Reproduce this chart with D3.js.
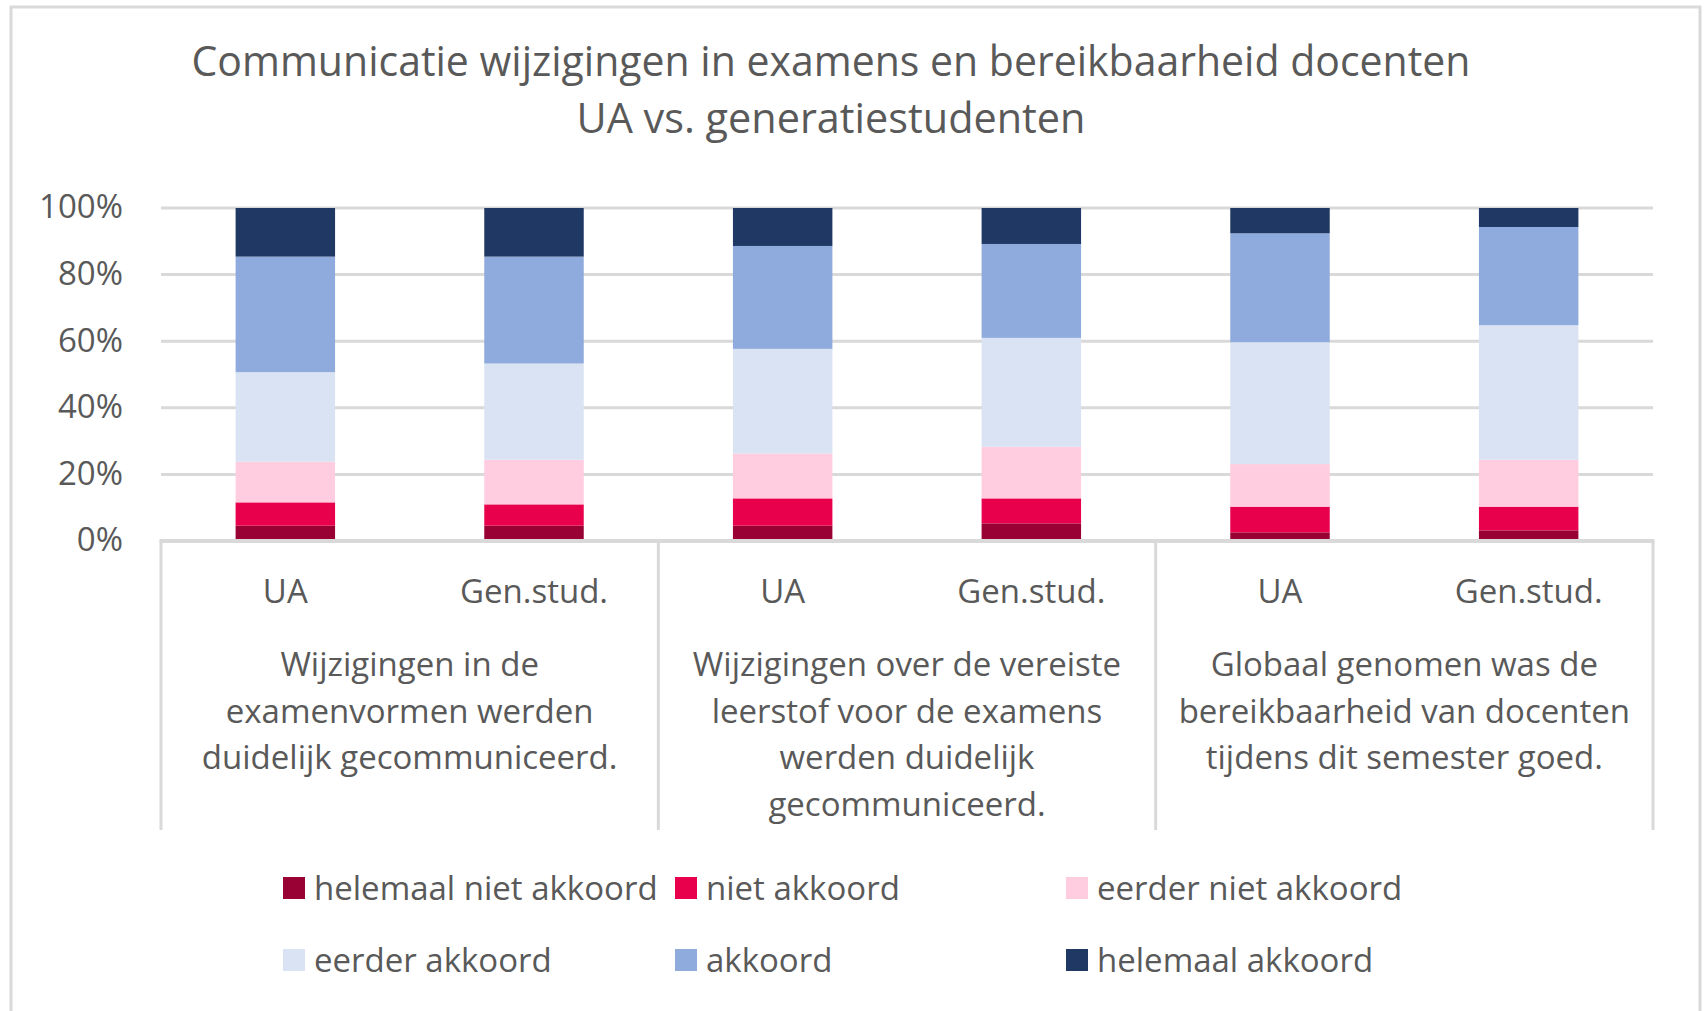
<!DOCTYPE html>
<html>
<head>
<meta charset="utf-8">
<script src="https://cdn.jsdelivr.net/npm/d3@7"></script>
<style>
  body { margin: 0; background: #fff; }
  text { font-family: "Open Sans", "Noto Sans", sans-serif; fill: #595959; }
</style>
</head>
<body>
<div id="chart"></div>
<script>
const w = 1705,
      h = 1011;

// data
const titleLines = ["Communicatie wijzigingen in examens en bereikbaarheid docenten", "UA vs. generatiestudenten"];
const groups = [
    ["Wijzigingen in de", "examenvormen werden", "duidelijk gecommuniceerd."],
    ["Wijzigingen over de vereiste", "leerstof voor de examens", "werden duidelijk", "gecommuniceerd."],
    ["Globaal genomen was de", "bereikbaarheid van docenten", "tijdens dit semester goed."]
];
const subCats = ["UA", "Gen.stud."];
const seriesNames = ["helemaal niet akkoord", "niet akkoord", "eerder niet akkoord", "eerder akkoord", "akkoord", "helemaal akkoord"];
const seriesColors = ["#990033", "#e8004c", "#ffcce0", "#dae3f3", "#8faadc", "#203864"];

// one value per bar: UA, Gen, UA, Gen, UA, Gen (percent)
const helemaalNiet = [4.6, 4.6, 4.6, 5.3, 2.6, 3.2];
const niet         = [7.0, 6.4, 8.2, 7.5, 7.7, 7.1];
const eerderNiet   = [12.2, 13.4, 13.5, 15.5, 12.8, 14.1];
const eerder       = [26.9, 28.9, 31.4, 32.7, 36.6, 40.4];
const akkoord      = [34.7, 32.1, 30.9, 28.2, 32.7, 29.5];
const helemaal     = [14.6, 14.6, 11.4, 10.8, 7.6, 5.7];
const yTicks = [0, 20, 40, 60, 80, 100];

const seriesValues = [helemaalNiet, niet, eerderNiet, eerder, akkoord, helemaal];

const plot = {left: 161, right: 1653, top: 208, bottom: 541};
const grey = "#d9d9d9";

const svg = d3.select("#chart")
    .append("svg")
    .attr("width", w)
    .attr("height", h)
    .style("display", "block");

svg.append("rect")
    .attr("x", 11).attr("y", 7)
    .attr("width", 1689).attr("height", 1040)
    .attr("fill", "#fff")
    .attr("stroke", grey)
    .attr("stroke-width", 3);

// title
svg.selectAll(".title")
    .data(titleLines)
    .enter()
    .append("text")
    .attr("class", "title")
    .attr("x", 831)
    .attr("y", (d, i) => 76 + i * 57)
    .attr("text-anchor", "middle")
    .attr("textLength", (d, i) => i == 0 ? 1279 : 509)
    .attr("lengthAdjust", "spacingAndGlyphs")
    .style("font-size", "42px")
    .text(d => d);

// table of bars
let bars = [];
groups.forEach((g, gi) => {
    subCats.forEach((s, si) => {
        let row = {key: gi + "-" + si, sub: s, group: gi};
        seriesNames.forEach((n, k) => row[n] = seriesValues[k][gi * 2 + si]);
        bars.push(row);
    });
});

const x = d3.scaleBand()
    .domain(bars.map(d => d.key))
    .range([plot.left, plot.right])
    .paddingInner(0.6)
    .paddingOuter(0.3);

const y = d3.scaleLinear()
    .domain([0, 100])
    .range([plot.bottom, plot.top]);

// gridlines
svg.append("g")
    .selectAll("line")
    .data(yTicks)
    .enter()
    .append("line")
    .attr("x1", plot.left)
    .attr("x2", plot.right)
    .attr("y1", d => y(d))
    .attr("y2", d => y(d))
    .attr("stroke", grey)
    .attr("stroke-width", 3);

let yAxis = d3.axisLeft(y)
    .tickValues(yTicks)
    .tickSize(0)
    .tickPadding(0)
    .tickFormat(d => d + "%");

let yAxisGroup = svg.append("g")
    .attr("transform", "translate(123,0)")
    .call(yAxis);
yAxisGroup.select(".domain").remove();
yAxisGroup.selectAll("text")
    .attr("dy", "0.3em")
    .style("font-size", "33px")
    .style("font-family", "'Open Sans', sans-serif")
    .attr("fill", "#595959");

// stacked bars
const stack = d3.stack().keys(seriesNames);
const layers = stack(bars);

svg.append("g")
    .selectAll("g")
    .data(layers)
    .enter()
    .append("g")
    .attr("fill", (d, i) => seriesColors[i])
    .selectAll("rect")
    .data(d => d)
    .enter()
    .append("rect")
    .attr("x", d => x(d.data.key))
    .attr("width", x.bandwidth())
    .attr("y", d => y(d[1]))
    .attr("height", d => y(d[0]) - y(d[1]));

// category axis
svg.append("line")
    .attr("x1", plot.left - 1.5).attr("x2", plot.right + 1.5)
    .attr("y1", plot.bottom).attr("y2", plot.bottom)
    .attr("stroke", grey)
    .attr("stroke-width", 4);

const groupW = (plot.right - plot.left) / groups.length;
const seps = d3.range(groups.length + 1).map(i => plot.left + i * groupW);

svg.append("g")
    .selectAll("line")
    .data(seps)
    .enter()
    .append("line")
    .attr("x1", d => d).attr("x2", d => d)
    .attr("y1", plot.bottom).attr("y2", 830)
    .attr("stroke", grey)
    .attr("stroke-width", 3);

svg.append("g")
    .selectAll("text")
    .data(bars)
    .enter()
    .append("text")
    .attr("x", d => x(d.key) + x.bandwidth() / 2)
    .attr("y", 603)
    .attr("text-anchor", "middle")
    .style("font-size", "33px")
    .text(d => d.sub);

groups.forEach((lines, gi) => {
    svg.append("text")
        .attr("text-anchor", "middle")
        .style("font-size", "33px")
        .selectAll("tspan")
        .data(lines)
        .enter()
        .append("tspan")
        .attr("x", plot.left + (gi + 0.5) * groupW)
        .attr("y", (d, i) => 676 + i * 46.7)
        .text(d => d);
});

// legend
const legX = [283, 675, 1066],
      legY = [888, 960];

let legend = svg.append("g")
    .selectAll("g")
    .data(seriesNames)
    .enter()
    .append("g")
    .attr("transform", (d, i) => "translate(" + legX[i % 3] + "," + legY[Math.floor(i / 3)] + ")");

legend.append("rect")
    .attr("x", 0).attr("y", -11)
    .attr("width", 22).attr("height", 22)
    .attr("fill", (d, i) => seriesColors[i]);

legend.append("text")
    .attr("x", 31)
    .attr("y", 0)
    .attr("dy", "0.35em")
    .style("font-size", "33px")
    .text(d => d);
</script>
</body>
</html>
